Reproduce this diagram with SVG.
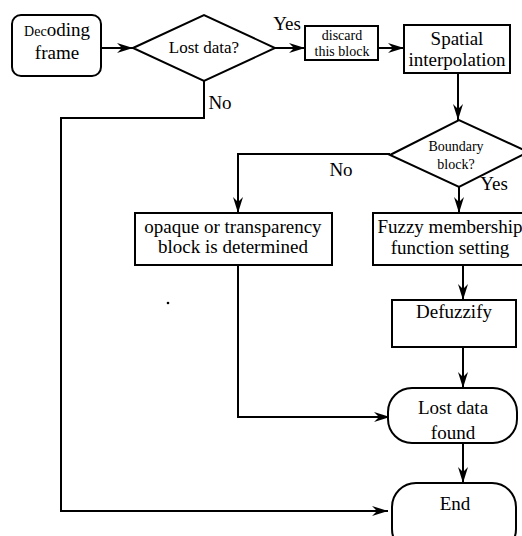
<svg xmlns="http://www.w3.org/2000/svg" width="522" height="536" viewBox="0 0 522 536">
<style>
.s{fill:#fff;stroke:#000;stroke-width:2}
.c{fill:none;stroke:#000;stroke-width:2}
text{fill:#000;text-anchor:middle}
.t{font-size:19px}
.m{font-size:17px}
.k{font-size:14px}
</style>
<defs>
<marker id="a" viewBox="0 0 16 10" refX="16" refY="5" markerWidth="16" markerHeight="10" markerUnits="userSpaceOnUse" orient="auto">
<path d="M0,0 L16,5 L0,10 L5,5 z" fill="#000"/>
</marker>
</defs>
<rect width="522" height="536" fill="#fff"/>
<g font-family="'Liberation Serif', 'DejaVu Serif', serif">
<g id="connectors">
<path class="c" d="M101,48 H133" marker-end="url(#a)"/>
<path class="c" d="M275,48 H305" marker-end="url(#a)"/>
<path class="c" d="M378,48 H404" marker-end="url(#a)"/>
<path class="c" d="M458,73 V120" marker-end="url(#a)"/>
<path class="c" d="M390,154 H238 V213" marker-end="url(#a)"/>
<path class="c" d="M459,187 V213" marker-end="url(#a)"/>
<path class="c" d="M463,265 V300" marker-end="url(#a)"/>
<path class="c" d="M463,347 V388" marker-end="url(#a)"/>
<path class="c" d="M463,443 V483" marker-end="url(#a)"/>
<path class="c" d="M204,81 V118 H61 V511 H388" marker-end="url(#a)"/>
<path class="c" d="M238,265 V417 H390" marker-end="url(#a)"/>
<text class="t" x="220" y="109">No</text>
<text class="t" x="287" y="30">Yes</text>
<text class="t" x="341" y="176">No</text>
<text class="t" x="494" y="190">Yes</text>
</g>
<g id="decoding">
<rect class="s" x="12" y="15" width="89" height="61" rx="9"/>
<text class="t" x="57" y="36"><tspan font-size="14px">Dec</tspan>oding</text>
<text class="t" x="57" y="59">frame</text>
</g>
<g id="lostdata">
<polygon class="s" points="133,48 204,15 275,48 204,81"/>
<text class="m" x="204" y="53">Lost data?</text>
</g>
<g id="discard">
<rect class="s" x="305" y="26" width="73" height="34"/>
<text class="k" x="342" y="40">discard</text>
<text class="k" x="342" y="56">this block</text>
</g>
<g id="spatial">
<rect class="s" x="404" y="25" width="106" height="48"/>
<text class="t" x="457" y="45">Spatial</text>
<text class="t" x="457" y="66">interpolation</text>
</g>
<g id="boundary">
<polygon class="s" points="390,155 459,120 528,152 459,187"/>
<text class="k" x="456" y="151">Boundary</text>
<text class="k" x="456" y="169">block?</text>
</g>
<g id="opaque">
<rect class="s" x="135" y="213" width="197" height="52"/>
<text class="t" x="233" y="233">opaque or transparency</text>
<text class="t" x="233" y="253">block is determined</text>
</g>
<g id="fuzzy">
<rect class="s" x="373" y="213" width="152" height="52"/>
<text class="t" x="450" y="233">Fuzzy membership</text>
<text class="t" x="450" y="254">function setting</text>
</g>
<g id="defuzzify">
<rect class="s" x="392" y="300" width="124" height="47"/>
<text class="t" x="454" y="318">Defuzzify</text>
</g>
<g id="lostfound">
<rect class="s" x="388" y="388" width="129" height="55" rx="24"/>
<text class="t" x="453" y="414">Lost data</text>
<text class="t" x="453" y="439">found</text>
</g>
<g id="end">
<rect class="s" x="392" y="483" width="124" height="70" rx="24"/>
<text class="t" x="455" y="510">End</text>
</g>
</g>
<circle cx="168" cy="303" r="1.3" fill="#000"/>
</svg>
